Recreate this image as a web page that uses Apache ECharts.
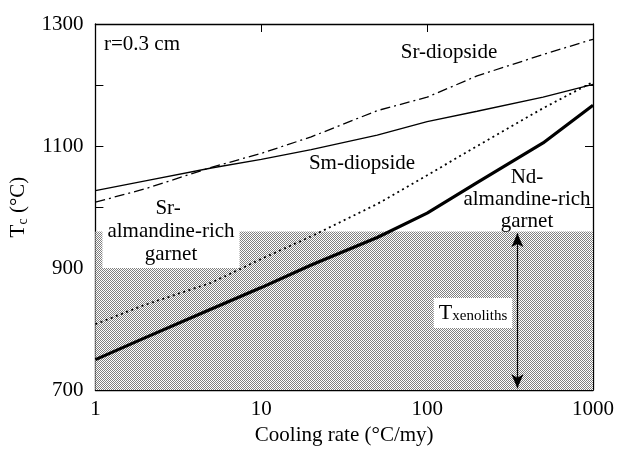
<!DOCTYPE html>
<html><head><meta charset="utf-8">
<script src="https://cdn.jsdelivr.net/npm/echarts@6/dist/echarts.min.js"></script>
<style>html,body{margin:0;padding:0;background:#fff}#c{width:617px;height:451px}</style>
</head><body><div id="c"></div>
<script>
const rates = [1, 2, 5, 10, 20, 50, 100, 200, 500, 1000];
const smDiopside = [1027, 1043, 1064, 1078, 1094, 1118, 1140, 1157, 1180, 1201];
const srDiopside = [1008, 1030, 1065, 1088, 1115, 1158, 1180, 1215, 1250, 1275];
const srGarnet = [808, 840, 876, 915, 952, 1005, 1052, 1100, 1162, 1205];
const ndGarnet = [750, 786, 833, 868, 905, 950, 990, 1040, 1105, 1167];
const yLabels = [700, 900, 1100, 1300];
const xenolithRange = [700, 960];
const arrowRate = 350;
const arrowRange = [957, 703];

const FONT = 'Liberation Serif';
const pts = arr => rates.map((r, i) => [r, arr[i]]);

const pc = document.createElement('canvas');
pc.width = 2; pc.height = 2;
const pctx = pc.getContext('2d');
pctx.fillStyle = '#fff'; pctx.fillRect(0, 0, 2, 2);
pctx.fillStyle = '#808080'; pctx.fillRect(0, 0, 1, 1); pctx.fillRect(1, 1, 1, 1);

const chart = echarts.init(document.getElementById('c'), null, {renderer: 'canvas'});
const axisLine = {show: true, lineStyle: {color: '#000', width: 1.3}};
const tickIn = {show: true, inside: true, length: 8, lineStyle: {color: '#000', width: 1}};
const F = '21px "Liberation Serif"';
chart.setOption({
  animation: false,
  backgroundColor: '#fff',
  grid: {left: 94, right: 23, top: 24, bottom: 56},
  xAxis: [{
    type: 'log', logBase: 10, min: 1, max: 1000,
    name: 'Cooling rate (°C/my)', nameLocation: 'middle', nameGap: 32,
    nameTextStyle: {fontFamily: FONT, fontSize: 21, color: '#000'},
    axisLine, axisTick: tickIn, splitLine: {show: false}, minorTick: {show: false},
    axisLabel: {fontFamily: FONT, fontSize: 21, color: '#000', margin: 9, formatter: v => String(v)}
  }, {
    type: 'log', logBase: 10, min: 1, max: 1000, position: 'top',
    axisLine, axisTick: tickIn, splitLine: {show: false}, axisLabel: {show: false}
  }],
  yAxis: [{
    type: 'value', min: 700, max: 1300, interval: 100,
    name: '{a|T}{b|c}{a| (°C)}', nameLocation: 'middle', nameGap: 64, nameRotate: 90,
    nameTextStyle: {
      color: '#000',
      rich: {
        a: {fontFamily: FONT, fontSize: 21, color: '#000', lineHeight: 24},
        b: {fontFamily: FONT, fontSize: 14, color: '#000', verticalAlign: 'bottom', lineHeight: 10}
      }
    },
    axisLine, axisTick: tickIn, splitLine: {show: false},
    axisLabel: {fontFamily: FONT, fontSize: 21, color: '#000', margin: 12,
      formatter: v => yLabels.includes(v) ? String(v) : ''}
  }, {
    type: 'value', min: 700, max: 1300, interval: 100, position: 'right',
    axisLine, axisTick: tickIn, splitLine: {show: false}, axisLabel: {show: false}
  }],
  series: [
    {
      type: 'line', data: [], z: 1, silent: true,
      markArea: {
        silent: true,
        itemStyle: {color: {image: pc, repeat: 'repeat'}, opacity: 1},
        data: [[{coord: [1, xenolithRange[1]]}, {coord: [1000, xenolithRange[0]]}]]
      }
    },
    {
      name: 'Sm-diopside', type: 'line', data: pts(smDiopside), showSymbol: false, z: 3,
      lineStyle: {color: '#000', width: 1.3, type: 'solid'}
    },
    {
      name: 'Sr-diopside', type: 'line', data: pts(srDiopside), showSymbol: false, z: 3,
      lineStyle: {color: '#000', width: 1.3, type: [10, 4, 2, 4]}
    },
    {
      name: 'Sr-garnet', type: 'line', data: pts(srGarnet), showSymbol: false, z: 3,
      lineStyle: {color: '#000', width: 1.8, type: [2, 3.5]}
    },
    {
      name: 'Nd-garnet', type: 'line', data: pts(ndGarnet), showSymbol: false, z: 3,
      lineStyle: {color: '#000', width: 3.2, type: 'solid'}
    },
    {
      type: 'line', data: [], z: 4, silent: true,
      markLine: {
        silent: true, symbol: ['arrow', 'arrow'], symbolSize: [9, 14],
        label: {show: false},
        lineStyle: {color: '#000', width: 1.2, type: 'solid'},
        data: [[{coord: [arrowRate, arrowRange[0]]}, {coord: [arrowRate, arrowRange[1]]}]]
      }
    }
  ],
  graphic: [
    {type: 'text', left: 104, top: 34, z: 10,
      style: {text: 'r=0.3 cm', font: F, fill: '#000'}},
    {type: 'text', x: 449, y: 52, z: 10,
      style: {text: 'Sr-diopside', font: F, fill: '#000', align: 'center', verticalAlign: 'middle'}},
    {type: 'text', x: 362, y: 163, z: 10,
      style: {text: 'Sm-diopside', font: F, fill: '#000', align: 'center', verticalAlign: 'middle'}},
    {type: 'text', x: 527, y: 199, z: 10,
      style: {text: 'Nd-\nalmandine-rich\ngarnet', font: F, fill: '#000', align: 'center', verticalAlign: 'middle', lineHeight: 22}},
    {type: 'text', x: 168, y: 208, z: 10,
      style: {text: 'Sr-', font: F, fill: '#000', align: 'center', verticalAlign: 'middle'}},
    {type: 'text', x: 171, y: 243, z: 10,
      style: {text: 'almandine-rich\ngarnet', font: F, fill: '#000', align: 'center', verticalAlign: 'middle', lineHeight: 23,
        backgroundColor: '#fff', padding: [0, 5, 4, 5]}},
    {type: 'text', x: 473, y: 313, z: 10,
      style: {text: '{a|T}{b|xenoliths}', align: 'center', verticalAlign: 'middle', backgroundColor: '#fff', padding: [4, 5, 4, 5],
        rich: {
          a: {font: '22px "Liberation Serif"', fill: '#000', lineHeight: 22},
          b: {font: '15px "Liberation Serif"', fill: '#000', lineHeight: 10, verticalAlign: 'bottom'}
        }}}
  ]
});
</script></body></html>
